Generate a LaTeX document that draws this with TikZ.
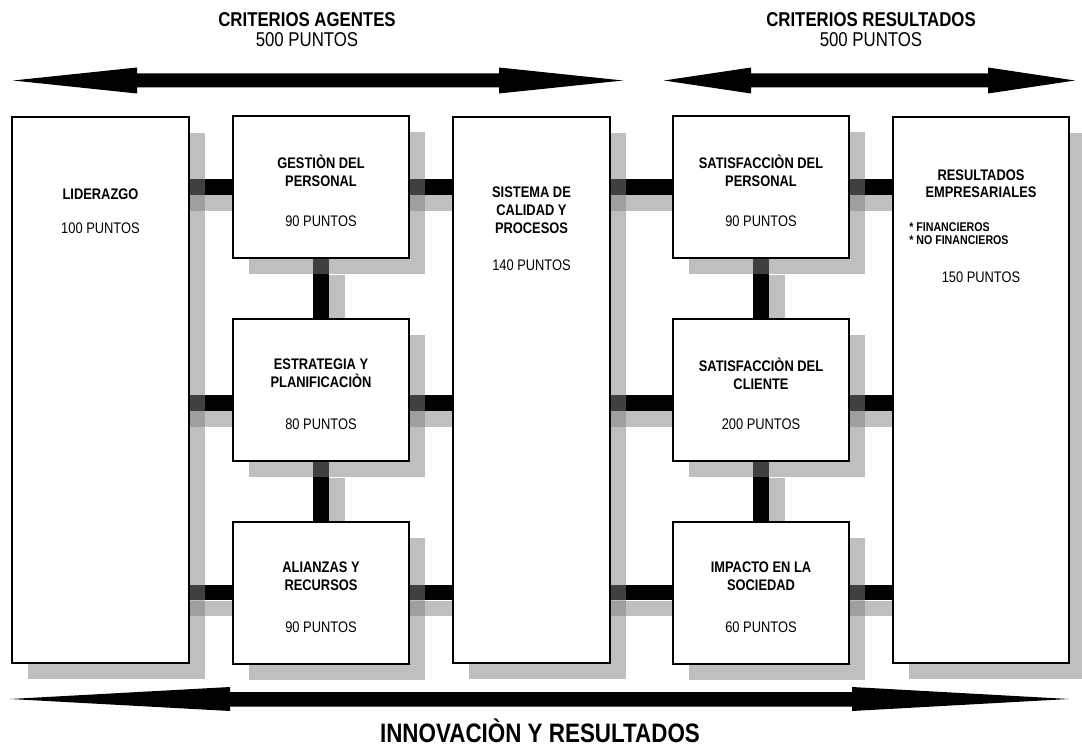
\documentclass[tikz,border=0pt]{standalone}
\usepackage{fontspec}
\setmainfont{Liberation Sans}[FakeStretch=0.84]
\pgfdeclarelayer{bars}
\pgfsetlayers{bars,main}

\tikzset{every picture/.style={line width=0.75pt}}
\tikzset{
	critbox/.style={draw, line width=1.5pt, fill=white, inner sep=0pt,
		preaction={draw=none, fill=gray, fill opacity=0.5, transform canvas={xshift=12pt,yshift=-12pt}}},
	tallbox/.style={critbox, minimum height=409.5pt},
	smallbox/.style={critbox, minimum width=132pt, minimum height=106.5pt},
	bar/.style={line width=11.5pt,
		preaction={draw=gray, line width=11.5pt, draw opacity=0.5, transform canvas={xshift=12pt,yshift=-12pt}}},
	boxtitle/.style={font=\bfseries\fontsize{11.5}{13.5}\selectfont, align=center, inner sep=0pt},
	boxpts/.style={font=\fontsize{11.5}{13.5}\selectfont, inner sep=0pt},
	bigarrow/.style={fill=black, draw=none},
}

\begin{document}
\begin{tikzpicture}[x=0.75pt,y=0.75pt,yscale=-1,xscale=1]
	\useasboundingbox (0,0) rectangle (1082,749);

	%Shape: Rectangle [lid]
	\draw (100.5,390) node[tallbox, minimum width=132.75pt] (lid) {};
	%Shape: Rectangle [ges]
	\draw (321,187) node[smallbox] (ges) {};
	%Shape: Rectangle [est]
	\draw (321,389.5) node[smallbox] (est) {};
	%Shape: Rectangle [ali]
	\draw (321,592.5) node[smallbox] (ali) {};
	%Shape: Rectangle [sis]
	\draw (531.5,390) node[tallbox, minimum width=117.75pt] (sis) {};
	%Shape: Rectangle [satp]
	\draw (761,187) node[smallbox] (satp) {};
	%Shape: Rectangle [satc]
	\draw (761,389.5) node[smallbox] (satc) {};
	%Shape: Rectangle [imp]
	\draw (761,592.5) node[smallbox] (imp) {};
	%Shape: Rectangle [res]
	\draw (981,390) node[tallbox, minimum width=132pt] (res) {};

	% middle row of bars sits a bit low
	\coordinate (row2) at (0,403);

	% bars between the boxes, kept under them
	\begin{pgfonlayer}{bars}
	\draw[bar] (ges.center -| lid.center) -- (ges.center -| sis.center);
	\draw[bar] (row2 -| lid.center) -- (row2 -| sis.center);
	\draw[bar] (ali.center -| lid.center) -- (ali.center -| sis.center);
	\draw[bar] (satp.center -| sis.center) -- (satp.center -| res.center);
	\draw[bar] (row2 -| sis.center) -- (row2 -| res.center);
	\draw[bar] (imp.center -| sis.center) -- (imp.center -| res.center);
	\draw[bar] (ges.south) -- (est.north);
	\draw[bar] (est.south) -- (ali.north);
	\draw[bar] (satp.south) -- (satc.north);
	\draw[bar] (satc.south) -- (imp.north);
	\end{pgfonlayer}

	%Shape: Arrow [top left]
	\draw[bigarrow] (13,80.5) -- (137,67.5) -- (137,73.5) -- (499,73.5) -- (499,67.5) -- (623,80.5) -- (499,93.5) -- (499,87.5) -- (137,87.5) -- (137,93.5) -- cycle ;
	%Shape: Arrow [top right]
	\draw[bigarrow] (664,80.5) -- (751,67.5) -- (751,73.5) -- (988,73.5) -- (988,67.5) -- (1075,80.5) -- (988,93.5) -- (988,87.5) -- (751,87.5) -- (751,93.5) -- cycle ;
	%Shape: Arrow [bottom]
	\draw[bigarrow] (10,699) -- (230,687) -- (230,692) -- (852,692) -- (852,687) -- (1069,699) -- (852,711) -- (852,706.5) -- (230,706.5) -- (230,711) -- cycle ;

	% Text Node
	\draw (307,19.5) node[font=\bfseries\fontsize{15}{18}\selectfont] (agt) {CRITERIOS AGENTES};
	% Text Node
	\draw (307,40) node[font=\fontsize{15}{18}\selectfont] (agtpts) {500 PUNTOS};
	% Text Node
	\draw (871,19.5) node[font=\bfseries\fontsize{15}{18}\selectfont] (rst) {CRITERIOS RESULTADOS};
	% Text Node
	\draw (871,40) node[font=\fontsize{15}{18}\selectfont] (rstpts) {500 PUNTOS};
	% Text Node
	\draw (540,731) node[inner sep=0pt, font=\bfseries\fontsize{20}{24}\selectfont] (inn) {INNOVACIÒN Y RESULTADOS};

	% Text Node
	\draw (100.5,194) node[boxtitle] (lidtxt) {LIDERAZGO};
	\draw (100.5,228) node[boxpts] (lidpts) {100 PUNTOS};
	% Text Node
	\draw (321,171) node[boxtitle] (gestxt) {GESTIÒN DEL\\PERSONAL};
	\draw (321,221.5) node[boxpts] (gespts) {90 PUNTOS};
	% Text Node
	\draw (321,373.5) node[boxtitle] (esttxt) {ESTRATEGIA Y\\PLANIFICACIÒN};
	\draw (321,424) node[boxpts] (estpts) {80 PUNTOS};
	% Text Node
	\draw (321,576.5) node[boxtitle] (alitxt) {ALIANZAS Y\\RECURSOS};
	\draw (321,627) node[boxpts] (alipts) {90 PUNTOS};
	% Text Node
	\draw (531.5,210) node[boxtitle] (sistxt) {SISTEMA DE\\CALIDAD Y\\PROCESOS};
	\draw (531.5,265) node[boxpts] (sispts) {140 PUNTOS};
	% Text Node
	\draw (761,171) node[boxtitle] (satptxt) {SATISFACCIÒN DEL\\PERSONAL};
	\draw (761,221.5) node[boxpts] (satppts) {90 PUNTOS};
	% Text Node
	\draw (761,373.5) node[boxtitle] (satctxt) {SATISFACCIÒN DEL\\CLIENTE};
	\draw (761,424) node[boxpts] (satcpts) {200 PUNTOS};
	% Text Node
	\draw (761,576.5) node[boxtitle] (imptxt) {IMPACTO EN LA\\SOCIEDAD};
	\draw (761,627) node[boxpts] (imppts) {60 PUNTOS};
	% Text Node
	\draw (981,184) node[boxtitle, font=\bfseries\fontsize{11.5}{13}\selectfont] (restxt) {RESULTADOS\\EMPRESARIALES};
	\draw (909,233.5) node[anchor=west, align=left, inner sep=0pt, font=\bfseries\fontsize{9.5}{10}\selectfont] (resfin) {* FINANCIEROS\\* NO FINANCIEROS};
	\draw (981,277.5) node[boxpts] (respts) {150 PUNTOS};

\end{tikzpicture}
\end{document}
